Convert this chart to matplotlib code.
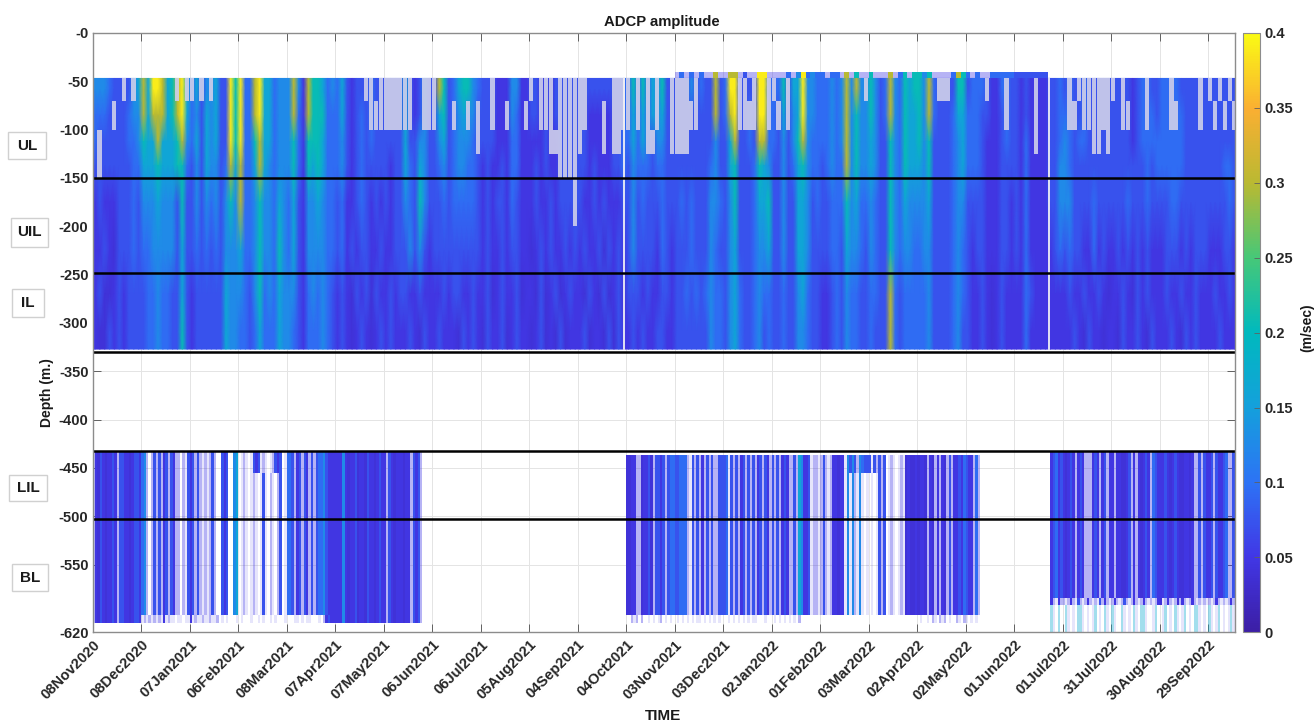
import numpy as np
import matplotlib
matplotlib.use("Agg")
import matplotlib.pyplot as plt
from matplotlib.colors import LinearSegmentedColormap, ListedColormap
from matplotlib.patches import Rectangle
from matplotlib.transforms import ScaledTranslation

plt.rcParams['font.family'] = ['Liberation Sans', 'DejaVu Sans']
plt.rcParams['font.weight'] = 'bold'

W, H = 1316, 723

tick_labels = ['08Nov2020','08Dec2020','07Jan2021','06Feb2021','08Mar2021','07Apr2021','07May2021','06Jun2021',
               '06Jul2021','05Aug2021','04Sep2021','04Oct2021','03Nov2021','03Dec2021','02Jan2022','01Feb2022',
               '03Mar2022','02Apr2022','02May2022','01Jun2022','01Jul2022','31Jul2022','30Aug2022','29Sep2022']
tick_step_days = 30
depth_ticks = [0,-50,-100,-150,-200,-250,-300,-350,-400,-450,-500,-550,-620]
depth_labels = ['-0','-50','-100','-150','-200','-250','-300','-350','-400','-450','-500','-550','-620']
cbar_ticks = [0,0.05,0.1,0.15,0.2,0.25,0.3,0.35,0.4]
cbar_labels = ['0','0.05','0.1','0.15','0.2','0.25','0.3','0.35','0.4']
layer_lines = [-150.5,-248.4,-330,-432.4,-502.5]
gap_days = [328.8,591.3]
layers = [('UL',8,132,46,159),('UIL',10.5,218,47.5,247),('IL',12,289,44,317),('LIL',9,475,47,501),('BL',12,564,47.5,591)]

# amplitude levels (m/s); each character of the strings below is one level
levels = [0.025,0.04,0.048,0.072,0.095,0.125,0.16,0.205,0.3,0.39]
special = {'_':(np.nan,0.0), '.':(0.05,0.38), ',':(0.05,0.13), '~':(0.17,0.38)}

# upper ADCP: one entry per 30-day tick interval, 3-day bins, rows top to bottom
upper_top_edges = [-40,-47]
upper_edges = [-47,-70,-100,-125,-150,-200,-250,-290,-327]
upper_bin_days = 3
upper_top_row = ('_'*120 + '.4.4.4..8.' + '.88.3..99.' + '...4.59454' + '4.44.8.7..' + '7...8.47.7'
                 + '757....487' + '4.4..44444' + '3333333___' + '_'*36)
upper_intervals = [
 ['555433.3.6','4443.33455','4.33333445','3.33333344','2322233343','2232133343','2311232333','2113232333'],
 ['8699867.9.','8688867896','7668666785','6667666774','5556555373','4455555363','3445443363','3445443373'],
 ['.6.5.63397','4536563397','4636563397','3536553486','3535453575','3434343555','2333333655','2333333655'],
 ['9448966455','9448966455','9447866455','8446865455','8445755465','6445755475','5435745465','4434644465'],
 ['5852877645','5842877744','5742777644','5742767644','4632556544','4632555544','5532454543','5432444543'],
 ['463233..3.','4632343...','4532343433','4532343333','3422343232','3423233223','2321323132','2321232123'],
 ['......23..','......23..','3333633553','3233643653','3233543753','2233353532','2323322322','2322232132'],
 ['.873467754','.673.56.5.','356345554.','3453455443','3343444443','3333333333','2232332232','2322213232'],
 ['33.2225522','33.22.542.','3332224422','2322324422','2323324322','2322323322','2312322312','1322312322'],
 ['.3...3....','33...3....','2223......','232322....','232232333.','1232322323','2131231232','1231213122'],
 ['..33333...','..222.2...','.3222.2..4','3323222334','3223232223','2322313232','2132131231','2312213132'],
 ['.7.7.6.73.','.6.6.6.63.','4646..553.','3544434433','3534333433','3533332432','3332322332','2323223322'],
 ['...5.43383','.....33383','...3333353','3333333453','3434333554','3334333543','3343434544','3333333544'],
 ['499..3.99.','489....99.','3683343884','3673334765','3573334667','3563334556','3564334544','3564334534'],
 ['.47.669554','4.6.569554','4353578544','3353467544','3353366534','3353366533','3343356433','3343355433'],
 ['445458585.','4454585755','4454585755','3454485755','3344475644','3344365543','2234354433','2234354433'],
 ['7534854767','7534854766','6533754766','6533754766','5433754655','5433754554','4433843444','4333843444'],
 ['7584...377','7584333466','7573333456','6573333456','5563333455','4553333454','4453333454','4453333453'],
 ['3444.224.3','44433223.3','4443222343','4443222333','3333222332','3233222332','3223212322','3223212322'],
 ['3232.22334','3232.22334','3242.22334','3242222335','3242222335','3242222234','2243222222','2242222222'],
 ['3.3.......','4..3......','543443..3.','5433333333','5533334333','3433224232','2322322321','2232132212'],
 ['.3.3234.33','33..234.43','3333234444','3333333434','3334333433','2323232322','2232132322','2132232132'],
 ['44.43333.3','44..4333.3','4444433333','4444433333','3344333333','2333232333','2322322322','2232132322'],
 ['.3.3.3','3.3.3.','333333','333443','333343','222332','232232','223222'],
]

# deep ADCP: 1.5-day bins, 20 per tick interval
deep_bin_days = 1.5
deep_edges = [-433,-437,-455,-584,-592,-602,-610,-620]
blank20 = '_'*20
deep_main = ['.213212232.332212332','45._.3.3.23.32.._.,3','23.3.,.,.3.__323__56','_,.,_,.,_,3,_.,_.3_,',
             '443.23.32.3.34453222','22252122312213221232','2.321222122.323.____',blank20,blank20,blank20,
             blank20,'1122..12231.3323.344','33444.,3.3.2.3.3..33','34,3.3.23.3.3.23.32.','3.3.232..3.65223,..,',
             '.3.,.22122,5,5.,5,_,','_,_,3.3_,.,_,.,12112','1221.21.2.21.3.22324','322.4.______________',
             '_______________23423','21232.232...232.23.2','2.221123.2.21232.432','22321232112212..3.32','23.32234..3.']
deep_upper = list(deep_main)
deep_upper[3] = '_,.,_,323,.,_,.323_,'
deep_upper[4] = '443.23.32.3.34453222'
deep_upper[15] = '.3.,.22122,5353.5433'
deep_upper[16] = '3,3.3.3_,.,_,.,12112'
deep_ragged_right = ['_'*20]*19 + ['_______________2.,2.','.,.2.,3.,.2.,.,3.2.,','.2.,.3.,.2.,.2.,.,.2','1,.2.,.1.2.,.2.,.,.,','.,.2.,.,.2.,']
deep_sparse_right = ['_'*20]*19 + ['_______________~,_~_','_~,_,_~~,_,_,~_,_~,_','~,__~,_,_~,_~~,__,~_','_,~_,_~,_,~_,_~~,_,_','~,_,~_,_,~,_']
deep_bottom_left = ['.213212232.332212332',',.,.,.,.,2,.,,_,,_,,','2,.,,.,,.,,._,_,___,','_,___,__,_,__,_,___,',
                    '___,,_,_,,___,_.2322','22252122312213221232','2.321222122.323.____'] + [blank20]*4 + [
                    '__.,._.__,_,_,._,_,_','_,_,_,_,_,,_,_,_,_,_','__,_,_,_,_,_,,___,__','_,_,_,_,_,_.________',
                    blank20,blank20,'_,__,_.,_.,._,__.,_.',',_,_,_____________'] + [blank20]*5


def decode(s, shift=0):
    vals = np.array([special[c][0] if c in special else levels[min(int(c)+shift, 9)] for c in s], float)
    alph = np.array([special[c][1] if c in special else 1.0 for c in s], float)
    return vals, alph


cmap = LinearSegmentedColormap.from_list('parula_like', [
    (60/255,30/255,165/255),(65/255,55/255,230/255),(45/255,115/255,245/255),(20/255,160/255,220/255),
    (0,185/255,190/255),(70/255,200/255,120/255),(185/255,185/255,50/255),(250/255,175/255,50/255),(250/255,250/255,20/255)], N=256)
pale_cmap = ListedColormap(['#cfcfea'])

fig = plt.figure(figsize=(W/100, H/100), dpi=100)
ax = fig.add_axes([92.6/W, 1-632.3/H, (1235-92.6)/W, (632.3-33)/H])
xmax = (1235-92.6)/48.5*tick_step_days
ax.set_xlim(0, xmax)
ax.set_ylim(-620, 0)

# upper block: cells read as amplitude are shaded smoothly, patchy cells sit on top in pale lilac stripes
n_up = sum(len(iv[0]) for iv in upper_intervals)
rows = [''.join(iv[r] for iv in upper_intervals) for r in range(8)]
Vu = np.zeros((8, n_up)); Pu = np.zeros((8, n_up), bool)
for i, s in enumerate(rows):
    vals, alph = decode(s)
    Vu[i] = vals
    Pu[i] = alph < 1
for j in range(n_up):
    for i in range(6, -1, -1):
        if Pu[i, j]:
            Vu[i, j] = Vu[i+1, j]

bin_centres = (np.arange(n_up)+0.5)*upper_bin_days
row_centres = [(upper_edges[i]+upper_edges[i+1])/2 for i in range(8)]
x_nodes = np.r_[0, bin_centres, n_up*upper_bin_days]
y_nodes = np.r_[upper_edges[0], row_centres, upper_edges[-1]]
V_nodes = np.pad(Vu, 1, mode='edge')
ax.pcolormesh(x_nodes, y_nodes, V_nodes, cmap=cmap, vmin=0, vmax=0.4, shading='gouraud', zorder=2)

# each pale cell covers most of its 3-day bin, so a little blue shows through as stripes
xu = np.arange(n_up+1)*upper_bin_days
x_sub = np.sort(np.r_[xu, xu[:-1]+0.87*upper_bin_days])
P_sub = np.zeros((8, 2*n_up), bool)
P_sub[:, ::2] = Pu
ax.pcolormesh(x_sub, upper_edges, np.ma.masked_where(~P_sub, np.ones_like(P_sub, float)), cmap=pale_cmap, alpha=0.9,
              shading='flat', antialiased=False, linewidth=0, zorder=2.5)

Vt, At = decode(upper_top_row.ljust(n_up, '_')[:n_up])
ax.pcolormesh(xu, upper_top_edges, np.ma.masked_invalid(Vt[None, :]), alpha=At[None, :], cmap=cmap, vmin=0, vmax=0.4,
              shading='flat', antialiased=False, linewidth=0, zorder=2)

# deep block
def joined(chunks):
    return ''.join(c.ljust(20, '_') for c in chunks)

mid_blank = lambda s: s[:218] + '_'*(395-218) + s[395:]
main = joined(deep_main); up = joined(deep_upper)
n_dp = len(main)
ragged = joined(deep_ragged_right).ljust(n_dp, '_')
sparse = joined(deep_sparse_right).ljust(n_dp, '_')
bottom_left = joined(deep_bottom_left).ljust(n_dp, '_')
d_rows = [mid_blank(up), up, main,
          main[:395] + ragged[395:],
          main[:395] + sparse[395:],
          bottom_left[:395] + sparse[395:],
          '_'*395 + sparse[395:]]
Vd = np.zeros((len(d_rows), n_dp)); Ad = np.zeros((len(d_rows), n_dp))
for i, s in enumerate(d_rows):
    s = s.ljust(n_dp, '_')[:n_dp]
    Vd[i], Ad[i] = decode(s)
xd = np.arange(n_dp+1)*deep_bin_days
pm = ax.pcolormesh(xd, deep_edges, np.ma.masked_invalid(Vd), alpha=Ad, cmap=cmap, vmin=0, vmax=0.4,
                   shading='flat', antialiased=True, linewidth=0, zorder=2)

for g in gap_days:
    ax.plot([g, g], [-47, -327], color='#f0f0f5', lw=1.3, zorder=3)
for d in layer_lines:
    ax.axhline(d, color='black', lw=1.8, zorder=4)

ax.set_xticks(np.arange(len(tick_labels))*tick_step_days)
ax.set_xticklabels(tick_labels, rotation=45, ha='right', rotation_mode='anchor', fontsize=10.5, color='#262626')
off = ScaledTranslation(10/72, 0, fig.dpi_scale_trans)
for t in ax.get_xticklabels():
    t.set_transform(t.get_transform() + off)
ax.set_yticks(depth_ticks)
ax.set_yticklabels(depth_labels, fontsize=10.5, color='#262626')
ax.tick_params(axis='both', direction='in', length=5.5, width=0.7, color='#606060', top=True, right=True, pad=3)
ax.tick_params(axis='x', pad=4)
ax.grid(True, color='#e4e4e4', lw=0.7, zorder=0)
ax.set_axisbelow(True)
for s in ax.spines.values():
    s.set_color('#8c8c8c'); s.set_linewidth(1.0); s.set_zorder(6)

fig.text(662/W, 1-22/H, 'ADCP amplitude', ha='center', va='center', fontsize=10.7, color='#1a1a1a')
fig.text(47/W, 1-393/H, 'Depth (m.)', rotation=90, ha='center', va='center', fontsize=10, color='#1a1a1a')
fig.text(663/W, 1-716/H, 'TIME', ha='center', va='center', fontsize=11, color='#1a1a1a')

cax = fig.add_axes([1243/W, 1-632.3/H, (1260.4-1243)/W, (632.3-33)/H])
cb = fig.colorbar(pm, cax=cax)
cb.solids.set_alpha(1)
cb.set_ticks(cbar_ticks)
cb.set_ticklabels(cbar_labels, fontsize=10.5, color='#262626')
cax.tick_params(direction='in', length=4, width=0.6, color='#606060', pad=3)
cb.outline.set_edgecolor('#8c8c8c')
fig.text(1307/W, 1-328/H, '(m/sec)', rotation=90, ha='center', va='center', fontsize=10, color='#1a1a1a')

for name, x0, y0, x1, y1 in layers:
    fig.add_artist(Rectangle((x0/W, 1-y1/H), (x1-x0)/W, (y1-y0)/H, transform=fig.transFigure,
                             facecolor='white', edgecolor='#d0d0d0', lw=1.0))
    fig.text((x0+x1)/2/W, 1-(y0+y1)/2/H, name, ha='center', va='center', fontsize=11, color='#1a1a1a')

fig.savefig('out.png', dpi=100)
